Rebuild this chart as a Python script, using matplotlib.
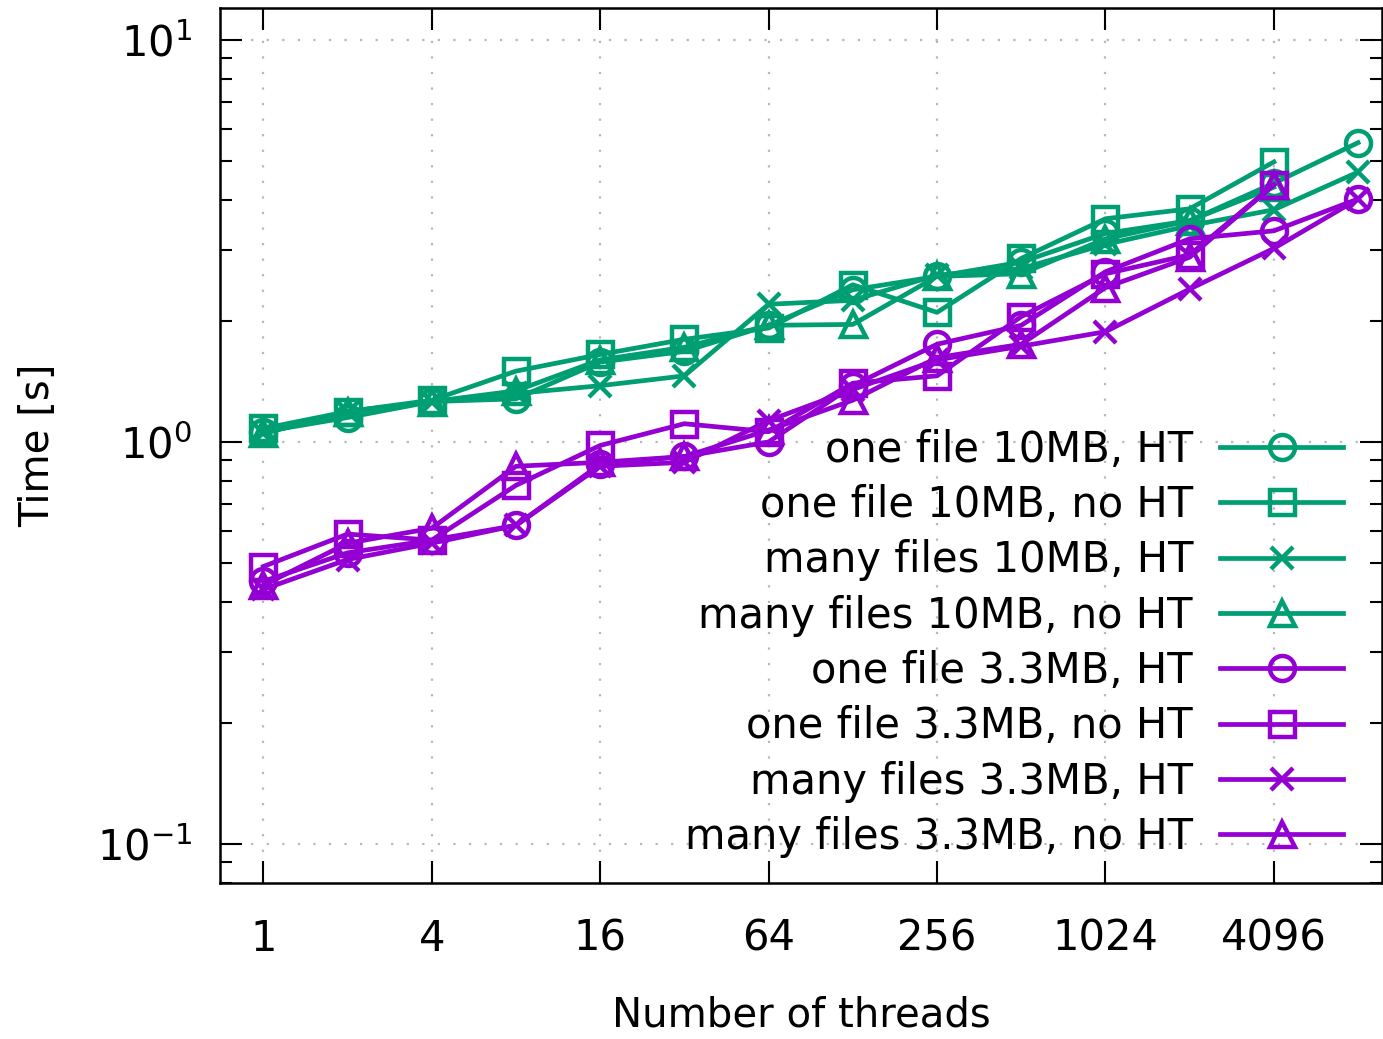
import matplotlib
matplotlib.use("Agg")
import matplotlib.pyplot as plt
from matplotlib.ticker import FixedLocator, FixedFormatter, LogLocator, NullFormatter

plt.rcParams['font.family'] = ['DejaVu Sans']
plt.rcParams['mathtext.fontset'] = 'dejavusans'

threads_ht = [1, 2, 4, 8, 16, 32, 64, 128, 256, 512, 1024, 2048, 4096, 8192]
threads_noht = [1, 2, 4, 8, 16, 32, 64, 128, 256, 512, 1024, 2048, 4096]

one_10_ht = [1.06, 1.15, 1.26, 1.28, 1.58, 1.68, 1.95, 2.39, 2.58, 2.80, 3.30, 3.55, 4.40, 5.55]
one_10_noht = [1.08, 1.19, 1.27, 1.50, 1.65, 1.80, 1.92, 2.46, 2.10, 2.86, 3.59, 3.80, 4.97]
many_10_ht = [1.05, 1.19, 1.26, 1.32, 1.38, 1.46, 2.20, 2.25, 2.60, 2.70, 3.10, 3.45, 3.78, 4.69]
many_10_noht = [1.05, 1.19, 1.26, 1.34, 1.60, 1.72, 1.95, 1.96, 2.58, 2.62, 3.20, 3.55, 4.30]
one_33_ht = [0.45, 0.53, 0.57, 0.62, 0.88, 0.92, 1.00, 1.38, 1.75, 1.95, 2.65, 3.20, 3.35, 4.02]
one_33_noht = [0.49, 0.59, 0.57, 0.78, 0.98, 1.11, 1.06, 1.40, 1.46, 2.05, 2.62, 2.92, 4.36]
many_33_ht = [0.43, 0.51, 0.56, 0.62, 0.87, 0.89, 1.13, 1.35, 1.60, 1.73, 1.88, 2.40, 3.03, 4.02]
many_33_noht = [0.44, 0.56, 0.61, 0.87, 0.89, 0.92, 1.07, 1.27, 1.62, 1.75, 2.42, 2.88, 4.36]

labels = ["one file 10MB, HT", "one file 10MB, no HT", "many files 10MB, HT", "many files 10MB, no HT",
          "one file 3.3MB, HT", "one file 3.3MB, no HT", "many files 3.3MB, HT", "many files 3.3MB, no HT"]

xtick_vals = [1, 4, 16, 64, 256, 1024, 4096]
xtick_labels = ["1", "4", "16", "64", "256", "1024", "4096"]
ytick_vals = [0.1, 1, 10]
ytick_labels = [r"$10^{-1}$", r"$10^{0}$", r"$10^{1}$"]

GREEN = "#009E73"
PURPLE = "#9400D3"

series = [
    (threads_ht, one_10_ht, GREEN, 'o'),
    (threads_noht, one_10_noht, GREEN, 's'),
    (threads_ht, many_10_ht, GREEN, 'x'),
    (threads_noht, many_10_noht, GREEN, '^'),
    (threads_ht, one_33_ht, PURPLE, 'o'),
    (threads_noht, one_33_noht, PURPLE, 's'),
    (threads_ht, many_33_ht, PURPLE, 'x'),
    (threads_noht, many_33_noht, PURPLE, '^'),
]

fig = plt.figure(figsize=(13.83, 10.39), dpi=100)
ax = fig.add_axes([220/1383, 1 - 883/1039, 1 - 220/1383 - 0.0005, (883 - 8)/1039])

for (xs, ys, c, m), lab in zip(series, labels):
    ms = 18 if m != 'x' else 16
    ax.plot(xs, ys, color=c, marker=m, markersize=ms, markerfacecolor='none',
            markeredgecolor=c, markeredgewidth=3.2, linewidth=3.4, label=lab)

ax.set_xscale('log', base=2)
ax.set_yscale('log')
ax.set_xlim(0.7, 10000)
ax.set_ylim(0.08, 12)

ax.xaxis.set_major_locator(FixedLocator(xtick_vals))
ax.xaxis.set_major_formatter(FixedFormatter(xtick_labels))
ax.xaxis.set_minor_locator(FixedLocator([]))
ax.yaxis.set_major_locator(FixedLocator(ytick_vals))
ax.yaxis.set_major_formatter(FixedFormatter(ytick_labels))
ax.yaxis.set_minor_locator(LogLocator(base=10, subs=range(2, 10)))
ax.yaxis.set_minor_formatter(NullFormatter())

ax.tick_params(axis='both', which='major', direction='in', length=16, width=1.5,
               top=True, right=True, labelsize=30, color='black')
ax.tick_params(axis='x', which='major', pad=25)
ax.tick_params(axis='y', which='major', pad=20)
ax.tick_params(axis='y', which='minor', direction='in', length=8.5, width=1.5, right=True)

for sp in ax.spines.values():
    sp.set_linewidth(1.8)

ax.grid(True, which='major', color='#b8b8b8', linestyle=(0, (1, 6)), linewidth=1.6)
ax.set_axisbelow(True)

ax.set_xlabel("Number of threads", fontsize=29, labelpad=26)
ax.set_ylabel("Time [s]", fontsize=29, labelpad=28)

leg = ax.legend(loc='lower right', bbox_to_anchor=(1343/1383, (1039 - 858)/1039),
                bbox_transform=fig.transFigure, frameon=False, markerfirst=False,
                fontsize=30, handlelength=2.95, handletextpad=0.65, labelspacing=0.32,
                borderpad=0, borderaxespad=0)

fig.savefig("out.png", dpi=100)
